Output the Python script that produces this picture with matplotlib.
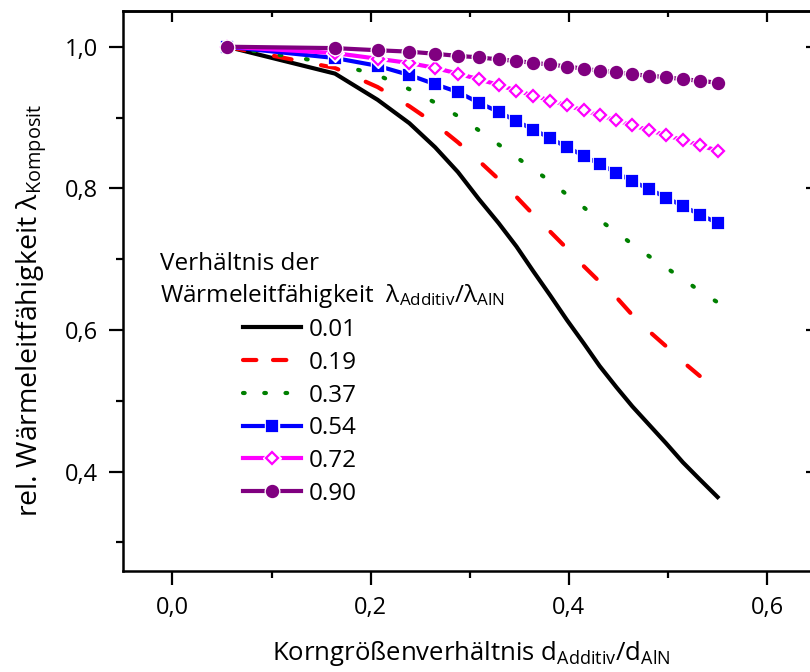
import matplotlib
matplotlib.use("Agg")
import matplotlib.pyplot as plt
from matplotlib.lines import Line2D
from matplotlib.legend_handler import HandlerTuple
from matplotlib.ticker import MultipleLocator, FuncFormatter

plt.rcParams['font.family'] = ['Open Sans', 'DejaVu Sans']
plt.rcParams['mathtext.fontset'] = 'custom'
plt.rcParams['mathtext.rm'] = 'Open Sans'
plt.rcParams['mathtext.it'] = 'Open Sans'
plt.rcParams['mathtext.default'] = 'regular'

# grain size ratio d_Additiv / d_AlN
d_ratio = [0.055, 0.164, 0.207, 0.239, 0.265, 0.288, 0.309, 0.329, 0.347, 0.364, 0.381,
           0.398, 0.415, 0.431, 0.448, 0.464, 0.481, 0.498, 0.515, 0.532, 0.550]

# relative thermal conductivity of the composite for each conductivity ratio
k_001 = [1.000, 0.962, 0.925, 0.892, 0.858, 0.823, 0.785, 0.751, 0.718, 0.683, 0.649,
         0.614, 0.581, 0.549, 0.519, 0.492, 0.466, 0.440, 0.413, 0.389, 0.364]
k_019 = [1.000, 0.970, 0.943, 0.916, 0.891, 0.865, 0.839, 0.813, 0.788, 0.763, 0.739,
         0.715, 0.690, 0.668, 0.646, 0.621, 0.598, 0.577, 0.555, 0.535]
k_037 = [1.000, 0.976, 0.960, 0.940, 0.921, 0.902, 0.882, 0.862, 0.844, 0.827, 0.810,
         0.791, 0.773, 0.755, 0.738, 0.721, 0.704, 0.688, 0.672, 0.655, 0.639]
k_054 = [1.000, 0.984, 0.973, 0.960, 0.947, 0.936, 0.921, 0.908, 0.895, 0.883, 0.871,
         0.858, 0.846, 0.834, 0.822, 0.810, 0.799, 0.787, 0.775, 0.763, 0.751]
k_072 = [1.000, 0.991, 0.983, 0.977, 0.970, 0.962, 0.954, 0.946, 0.938, 0.931, 0.924,
         0.917, 0.910, 0.903, 0.896, 0.889, 0.882, 0.875, 0.868, 0.861, 0.853]
k_090 = [1.000, 0.998, 0.995, 0.993, 0.990, 0.987, 0.985, 0.982, 0.980, 0.977, 0.975,
         0.972, 0.969, 0.966, 0.964, 0.961, 0.959, 0.957, 0.954, 0.952, 0.949]

labels = ['0.01', '0.19', '0.37', '0.54', '0.72', '0.90']

W, H = 810, 672
fig = plt.figure(figsize=(W / 100, H / 100), dpi=100)
ax = fig.add_axes([122.9 / W, 1 - 570.7 / H, (816.7 - 122.9) / W, (570.7 - 11.3) / H])

LW = 3

# lines without symbols
ax.plot(d_ratio[:len(k_001)], k_001, color='black', lw=LW, zorder=2)
ax.plot(d_ratio[:len(k_019)], k_019, color='red', lw=LW, dashes=(4.3, 7.2),
        dash_capstyle='round', zorder=2)
ax.plot(d_ratio[:len(k_037)], k_037, color='green', lw=LW, dashes=(0.4, 6.0),
        dash_capstyle='round', zorder=2)


def symbol_series(y, color, marker, ms, face, z):
    x = d_ratio[:len(y)]
    ln, = ax.plot(x, y, color=color, lw=LW, zorder=z)
    gap, = ax.plot(x, y, ls='none', marker=marker, ms=ms + 2.5, mfc='white', mec='white',
                   zorder=z + 0.1)
    mk, = ax.plot(x, y, ls='none', marker=marker, ms=ms, mfc=face, mec=color, mew=1.6,
                  zorder=z + 0.2)
    return (ln, gap, mk)


h054 = symbol_series(k_054, '#0000ff', 's', 7.4, '#0000ff', 3)
h072 = symbol_series(k_072, '#ff00ff', 'D', 6.3, 'white', 4)
h090 = symbol_series(k_090, '#800080', 'o', 8.0, '#800080', 5)

ax.set_xlim(-0.05, 0.65)
ax.set_ylim(0.26, 1.05)

fmt = FuncFormatter(lambda v, p: f'{v:.1f}'.replace('.', ','))
ax.xaxis.set_major_locator(MultipleLocator(0.2))
ax.xaxis.set_minor_locator(MultipleLocator(0.1))
ax.yaxis.set_major_locator(MultipleLocator(0.2))
ax.yaxis.set_minor_locator(MultipleLocator(0.1))
ax.xaxis.set_major_formatter(fmt)
ax.yaxis.set_major_formatter(fmt)
ax.tick_params(which='major', direction='out', length=10, width=1.6, labelsize=17, pad=8)
ax.tick_params(which='minor', direction='out', length=5, width=1.6)
for s in ax.spines.values():
    s.set_linewidth(1.8)

# mirrored axes on top and right with inward ticks
top = ax.secondary_xaxis('top')
top.xaxis.set_major_locator(MultipleLocator(0.2))
top.xaxis.set_minor_locator(MultipleLocator(0.1))
top.tick_params(which='major', direction='in', length=8, width=1.6, labeltop=False)
top.tick_params(which='minor', direction='in', length=4.5, width=1.6)
right = ax.secondary_yaxis('right')
right.yaxis.set_major_locator(MultipleLocator(0.2))
right.yaxis.set_minor_locator(MultipleLocator(0.1))
right.tick_params(which='major', direction='in', length=8, width=1.6, labelright=False)
right.tick_params(which='minor', direction='in', length=4.5, width=1.6)
for sec in (top, right):
    for s in sec.spines.values():
        s.set_linewidth(1.8)

fig.text(471 / W, 1 - 660 / H, r'Korngrößenverhältnis $d_{Additiv}/d_{AlN}$',
         fontsize=18.5, ha='center', va='baseline')
fig.text(32 / W, 1 - 310 / H, r'rel. Wärmeleitfähigkeit $λ_{Komposit}$',
         fontsize=20.5, rotation=90, ha='center', va='center')

# legend title as two text lines
fig.text(160 / W, 1 - 270 / H, 'Verhältnis der', fontsize=17.5, va='baseline')
fig.text(160 / W, 1 - 302 / H, r'Wärmeleitfähigkeit  $λ_{Additiv}/λ_{AlN}$', fontsize=17.5,
         va='baseline')

h001 = Line2D([], [], color='black', lw=LW)
h019 = Line2D([], [], color='red', lw=LW, dashes=(3.2, 4.0), dash_capstyle='round')
h037 = Line2D([], [], color='green', lw=LW, dashes=(0.4, 4.7), dash_capstyle='round')
fig.legend([h001, h019, h037, h054, h072, h090], labels,
           handler_map={tuple: HandlerTuple(ndivide=1)},
           loc='upper left', bbox_to_anchor=(242.7 / W, 1 - 318 / H),
           frameon=False, fontsize=17.5, handlelength=2.4, handletextpad=0.3,
           labelspacing=0.36, borderpad=0, borderaxespad=0, numpoints=1)

fig.savefig('out.png', dpi=100)
